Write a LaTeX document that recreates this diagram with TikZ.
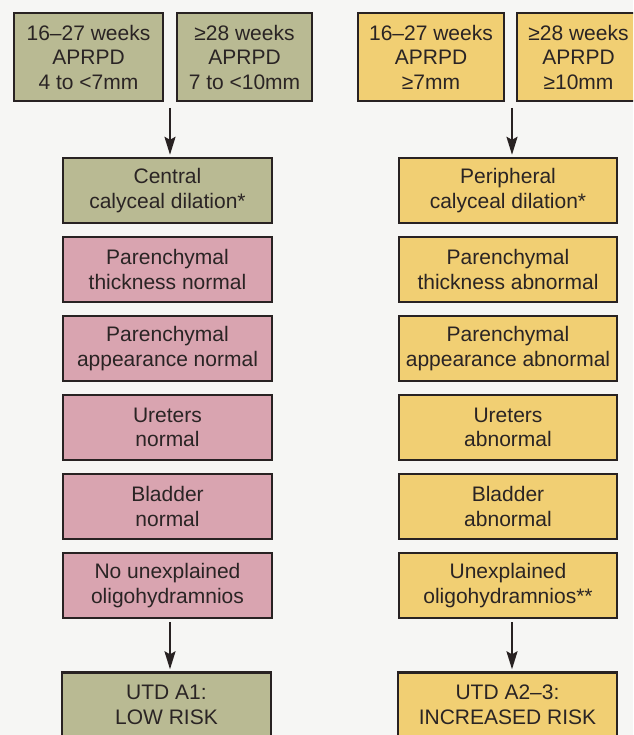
\documentclass[tikz,border=0pt]{standalone}
\usepackage{fontspec}
\setmainfont{Liberation Sans}
\usetikzlibrary{arrows.meta}

\definecolor{paper}{RGB}{246,246,244}
\definecolor{edgecol}{RGB}{40,34,34}
\definecolor{inkcol}{RGB}{42,36,36}
\definecolor{olivefill}{RGB}{185,186,147}
\definecolor{pinkfill}{RGB}{217,164,176}
\definecolor{yellowfill}{RGB}{241,207,115}

\tikzset{
  box/.style={draw=edgecol, line width=2.4pt, align=center, text=inkcol,
    font=\fontsize{21}{24.5}\selectfont, inner sep=0pt},
  agebox/.style={box, minimum height=88pt},
  findbox/.style={box, minimum height=65pt},
  flow/.style={-{Stealth[length=18pt,width=11pt,inset=3pt]}, line width=2.2pt, draw=edgecol,
    shorten <=3pt, shorten >=2pt},
}

\begin{document}
\begin{tikzpicture}[x=1pt,y=-1pt]
        \useasboundingbox (0,0) rectangle (633,735);
        \clip (0,0) rectangle (633,735);
        \fill[paper] (0,0) rectangle (633,735);

        % age and APRPD groups
        \node[agebox, fill=olivefill, minimum width=149pt] (lwa) at (88.5,57) {16--27 weeks\\APRPD\\4 to <7mm};
        \node[agebox, fill=olivefill, minimum width=135pt] (lwb) at (244.5,57) {≥28 weeks\\APRPD\\7 to <10mm};
        \node[agebox, fill=yellowfill, minimum width=146pt] (rwa) at (431,57) {16--27 weeks\\APRPD\\≥7mm};
        \node[agebox, fill=yellowfill, minimum width=123pt] (rwb) at (578.5,57) {≥28 weeks\\APRPD\\≥10mm};

        % findings, one row per step
        \foreach \i/\lfill/\ltext/\rtext in {
                1/olivefill/{Central\\calyceal dilation*}/{Peripheral\\calyceal dilation*},
                2/pinkfill/{Parenchymal\\thickness normal}/{Parenchymal\\thickness abnormal},
                3/pinkfill/{Parenchymal\\appearance normal}/{Parenchymal\\appearance abnormal},
                4/pinkfill/{Ureters\\normal}/{Ureters\\abnormal},
                5/pinkfill/{Bladder\\normal}/{Bladder\\abnormal},
                6/pinkfill/{No unexplained\\oligohydramnios}/{Unexplained\\oligohydramnios**}}{
                \pgfmathsetmacro{\y}{190.5+79*(\i-1)}
                \node[findbox, fill=\lfill, minimum width=209pt] (lc\i) at (167.5,\y) {\ltext};
                \node[findbox, fill=yellowfill, minimum width=218pt] (rc\i) at (508,\y) {\rtext};
            }

        % risk classes
        \node[findbox, fill=olivefill, minimum width=209pt] (lrisk) at (166.5,705) {UTD A1:\\LOW RISK};
        \node[findbox, fill=yellowfill, minimum width=219pt] (rrisk) at (507.5,705) {UTD A2--3:\\INCREASED RISK};

        \coordinate (lsplit) at (170,105);
        \coordinate (rsplit) at (512,105);

        \draw[flow] (lsplit) -- (lsplit |- lc1.north);
        \draw[flow] (rsplit) -- (rsplit |- rc1.north);
        \draw[flow] (lc6.south -| lsplit) -- (lrisk.north -| lsplit);
        \draw[flow] (rc6.south -| rsplit) -- (rrisk.north -| rsplit);
    \end{tikzpicture}
\end{document}
